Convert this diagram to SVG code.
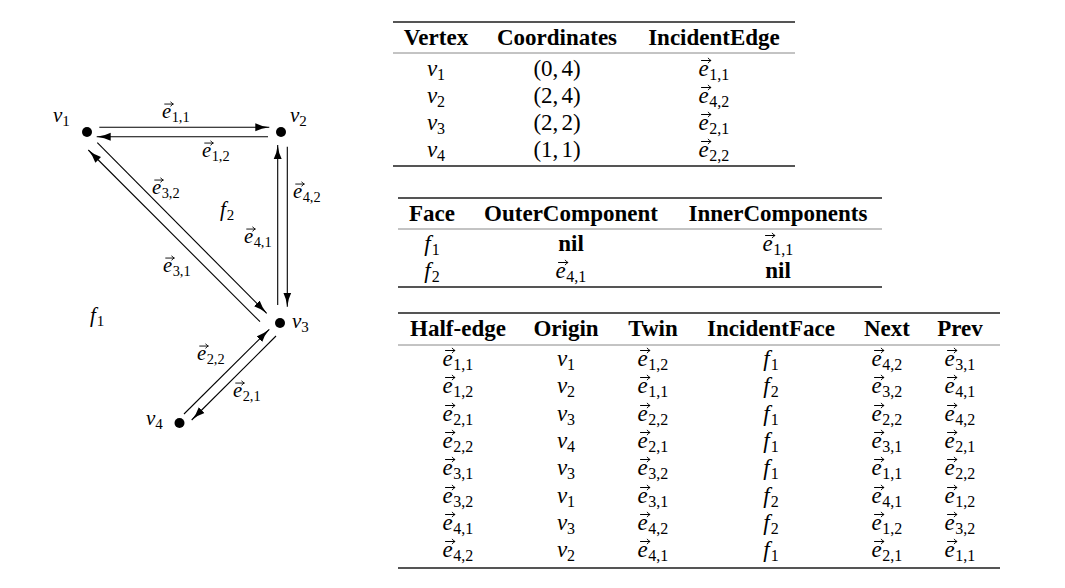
<svg xmlns="http://www.w3.org/2000/svg" width="1065" height="588" viewBox="0 0 1065 588">
<style>
text{font-family:"Liberation Serif","Times New Roman",serif;font-size:23px;fill:#000}
.b{font-weight:bold}
.it{font-style:italic}
.sb{font-size:16px;font-style:normal}
.m{text-anchor:middle}
.g text{font-size:21px}
.g .sb{font-size:15px}
.thick{stroke:#555;stroke-width:1.8}
.thin{stroke:#888;stroke-width:1}
.edge{stroke:#000;stroke-width:1.1;fill:none;marker-end:url(#ah)}
.dot{fill:#000}
.va{stroke:#000;stroke-width:1;fill:none;stroke-linecap:round;stroke-linejoin:round}
</style>
<defs>
<marker id="ah" markerWidth="15" markerHeight="9" refX="14" refY="4.5" orient="auto" markerUnits="userSpaceOnUse">
<path d="M0,0.5 Q6,3.6 14,4.5 Q6,5.4 0,8.5 Z" fill="#000"/>
</marker>
<path id="vec" class="va" d="M3,-15.5 H12.3 M9.8,-17.8 Q10.8,-16.1 12.5,-15.5 Q10.8,-14.9 9.8,-13.2"/>
</defs>
<rect width="1065" height="588" fill="#fff"/>

<!-- Graph vertices -->
<g id="v1" class="g"><circle class="dot" cx="87" cy="132" r="5"/><text x="53" y="122"><tspan class="it">v</tspan><tspan class="sb" dy="4">1</tspan></text></g>
<g id="v2" class="g"><circle class="dot" cx="281" cy="132" r="5"/><text x="290" y="122"><tspan class="it">v</tspan><tspan class="sb" dy="4">2</tspan></text></g>
<g id="v3" class="g"><circle class="dot" cx="280" cy="323" r="5"/><text x="292" y="328"><tspan class="it">v</tspan><tspan class="sb" dy="4">3</tspan></text></g>
<g id="v4" class="g"><circle class="dot" cx="179.5" cy="423" r="5"/><text x="146" y="425"><tspan class="it">v</tspan><tspan class="sb" dy="4">4</tspan></text></g>
<g id="face-f1" class="g"><text x="90" y="322"><tspan class="it">f</tspan><tspan class="sb" dx="1" dy="4">1</tspan></text></g>
<g id="face-f2" class="g"><text x="220" y="216"><tspan class="it">f</tspan><tspan class="sb" dx="1" dy="4">2</tspan></text></g>

<!-- Connectors -->
<g id="connectors">
<path class="edge" d="M99.3,127.3 L269.3,127.3"/>
<path class="edge" d="M268,136.7 L96.7,136.7"/>
<path class="edge" d="M277.7,305 L277.7,145"/>
<path class="edge" d="M287.3,146.7 L287.3,306.7"/>
<path class="edge" d="M97.3,142.7 L266.7,313.3"/>
<path class="edge" d="M260,321.7 L88.3,150"/>
<path class="edge" d="M184,414 L269.3,329.3"/>
<path class="edge" d="M276,336 L191.7,420"/>
<g transform="translate(162,118) scale(0.9)"><use href="#vec"/><text><tspan class="it">e</tspan><tspan class="sb" dx="0.5" dy="4">1,1</tspan></text></g>
<g transform="translate(202,157) scale(0.9)"><use href="#vec"/><text><tspan class="it">e</tspan><tspan class="sb" dx="0.5" dy="4">1,2</tspan></text></g>
<g transform="translate(152,194) scale(0.9)"><use href="#vec"/><text><tspan class="it">e</tspan><tspan class="sb" dx="0.5" dy="4">3,2</tspan></text></g>
<g transform="translate(293,198) scale(0.9)"><use href="#vec"/><text><tspan class="it">e</tspan><tspan class="sb" dx="0.5" dy="4">4,2</tspan></text></g>
<g transform="translate(244,243) scale(0.9)"><use href="#vec"/><text><tspan class="it">e</tspan><tspan class="sb" dx="0.5" dy="4">4,1</tspan></text></g>
<g transform="translate(163,272) scale(0.9)"><use href="#vec"/><text><tspan class="it">e</tspan><tspan class="sb" dx="0.5" dy="4">3,1</tspan></text></g>
<g transform="translate(197,360) scale(0.9)"><use href="#vec"/><text><tspan class="it">e</tspan><tspan class="sb" dx="0.5" dy="4">2,2</tspan></text></g>
<g transform="translate(233,397) scale(0.9)"><use href="#vec"/><text><tspan class="it">e</tspan><tspan class="sb" dx="0.5" dy="4">2,1</tspan></text></g>
</g>

<!-- Table 1: vertices -->
<g id="table-vertex">
<line class="thick" x1="393" y1="22" x2="795" y2="22"/>
<text class="b m" x="436" y="45">Vertex</text>
<text class="b m" x="557" y="45">Coordinates</text>
<text class="b m" x="714" y="45">IncidentEdge</text>
<line class="thin" x1="393" y1="53" x2="795" y2="53"/>
<text class="m" x="436" y="76"><tspan class="it">v</tspan><tspan class="sb" dy="4">1</tspan></text>
<text class="m" x="436" y="103"><tspan class="it">v</tspan><tspan class="sb" dy="4">2</tspan></text>
<text class="m" x="436" y="130"><tspan class="it">v</tspan><tspan class="sb" dy="4">3</tspan></text>
<text class="m" x="436" y="157"><tspan class="it">v</tspan><tspan class="sb" dy="4">4</tspan></text>
<text class="m" x="557" y="76">(0,<tspan dx="3">4)</tspan></text>
<text class="m" x="557" y="103">(2,<tspan dx="3">4)</tspan></text>
<text class="m" x="557" y="130">(2,<tspan dx="3">2)</tspan></text>
<text class="m" x="557" y="157">(1,<tspan dx="3">1)</tspan></text>
<g transform="translate(698.5,76)"><use href="#vec"/><text><tspan class="it">e</tspan><tspan class="sb" dx="0.5" dy="4">1,1</tspan></text></g>
<g transform="translate(698.5,103)"><use href="#vec"/><text><tspan class="it">e</tspan><tspan class="sb" dx="0.5" dy="4">4,2</tspan></text></g>
<g transform="translate(698.5,130)"><use href="#vec"/><text><tspan class="it">e</tspan><tspan class="sb" dx="0.5" dy="4">2,1</tspan></text></g>
<g transform="translate(698.5,157)"><use href="#vec"/><text><tspan class="it">e</tspan><tspan class="sb" dx="0.5" dy="4">2,2</tspan></text></g>
<line class="thick" x1="393" y1="166" x2="795" y2="166"/>
</g>

<!-- Table 2: faces -->
<g id="table-face">
<line class="thick" x1="398" y1="198" x2="882" y2="198"/>
<text class="b m" x="432" y="221">Face</text>
<text class="b m" x="571" y="221">OuterComponent</text>
<text class="b m" x="778" y="221">InnerComponents</text>
<line class="thin" x1="398" y1="229" x2="882" y2="229"/>
<text class="m" x="432" y="251"><tspan class="it">f</tspan><tspan class="sb" dx="1" dy="4">1</tspan></text>
<text class="m" x="432" y="278"><tspan class="it">f</tspan><tspan class="sb" dx="1" dy="4">2</tspan></text>
<text class="b m" x="571" y="251">nil</text>
<g transform="translate(555.5,278)"><use href="#vec"/><text><tspan class="it">e</tspan><tspan class="sb" dx="0.5" dy="4">4,1</tspan></text></g>
<g transform="translate(762.5,251)"><use href="#vec"/><text><tspan class="it">e</tspan><tspan class="sb" dx="0.5" dy="4">1,1</tspan></text></g>
<text class="b m" x="778" y="278">nil</text>
<line class="thick" x1="398" y1="287" x2="882" y2="287"/>
</g>

<!-- Table 3: half-edges -->
<g id="table-halfedge">
<line class="thick" x1="398" y1="313" x2="1000" y2="313"/>
<text class="b m" x="458" y="336">Half-edge</text>
<text class="b m" x="566" y="336">Origin</text>
<text class="b m" x="653" y="336">Twin</text>
<text class="b m" x="771" y="336">IncidentFace</text>
<text class="b m" x="887" y="336">Next</text>
<text class="b m" x="960" y="336">Prev</text>
<line class="thin" x1="398" y1="345" x2="1000" y2="345"/>

<g transform="translate(442.5,366)"><use href="#vec"/><text><tspan class="it">e</tspan><tspan class="sb" dx="0.5" dy="4">1,1</tspan></text></g>
<text class="m" x="566" y="366"><tspan class="it">v</tspan><tspan class="sb" dy="4">1</tspan></text>
<g transform="translate(637.5,366)"><use href="#vec"/><text><tspan class="it">e</tspan><tspan class="sb" dx="0.5" dy="4">1,2</tspan></text></g>
<text class="m" x="771" y="366"><tspan class="it">f</tspan><tspan class="sb" dx="1" dy="4">1</tspan></text>
<g transform="translate(871.5,366)"><use href="#vec"/><text><tspan class="it">e</tspan><tspan class="sb" dx="0.5" dy="4">4,2</tspan></text></g>
<g transform="translate(944.5,366)"><use href="#vec"/><text><tspan class="it">e</tspan><tspan class="sb" dx="0.5" dy="4">3,1</tspan></text></g>

<g transform="translate(442.5,393)"><use href="#vec"/><text><tspan class="it">e</tspan><tspan class="sb" dx="0.5" dy="4">1,2</tspan></text></g>
<text class="m" x="566" y="393"><tspan class="it">v</tspan><tspan class="sb" dy="4">2</tspan></text>
<g transform="translate(637.5,393)"><use href="#vec"/><text><tspan class="it">e</tspan><tspan class="sb" dx="0.5" dy="4">1,1</tspan></text></g>
<text class="m" x="771" y="393"><tspan class="it">f</tspan><tspan class="sb" dx="1" dy="4">2</tspan></text>
<g transform="translate(871.5,393)"><use href="#vec"/><text><tspan class="it">e</tspan><tspan class="sb" dx="0.5" dy="4">3,2</tspan></text></g>
<g transform="translate(944.5,393)"><use href="#vec"/><text><tspan class="it">e</tspan><tspan class="sb" dx="0.5" dy="4">4,1</tspan></text></g>

<g transform="translate(442.5,421)"><use href="#vec"/><text><tspan class="it">e</tspan><tspan class="sb" dx="0.5" dy="4">2,1</tspan></text></g>
<text class="m" x="566" y="421"><tspan class="it">v</tspan><tspan class="sb" dy="4">3</tspan></text>
<g transform="translate(637.5,421)"><use href="#vec"/><text><tspan class="it">e</tspan><tspan class="sb" dx="0.5" dy="4">2,2</tspan></text></g>
<text class="m" x="771" y="421"><tspan class="it">f</tspan><tspan class="sb" dx="1" dy="4">1</tspan></text>
<g transform="translate(871.5,421)"><use href="#vec"/><text><tspan class="it">e</tspan><tspan class="sb" dx="0.5" dy="4">2,2</tspan></text></g>
<g transform="translate(944.5,421)"><use href="#vec"/><text><tspan class="it">e</tspan><tspan class="sb" dx="0.5" dy="4">4,2</tspan></text></g>

<g transform="translate(442.5,448)"><use href="#vec"/><text><tspan class="it">e</tspan><tspan class="sb" dx="0.5" dy="4">2,2</tspan></text></g>
<text class="m" x="566" y="448"><tspan class="it">v</tspan><tspan class="sb" dy="4">4</tspan></text>
<g transform="translate(637.5,448)"><use href="#vec"/><text><tspan class="it">e</tspan><tspan class="sb" dx="0.5" dy="4">2,1</tspan></text></g>
<text class="m" x="771" y="448"><tspan class="it">f</tspan><tspan class="sb" dx="1" dy="4">1</tspan></text>
<g transform="translate(871.5,448)"><use href="#vec"/><text><tspan class="it">e</tspan><tspan class="sb" dx="0.5" dy="4">3,1</tspan></text></g>
<g transform="translate(944.5,448)"><use href="#vec"/><text><tspan class="it">e</tspan><tspan class="sb" dx="0.5" dy="4">2,1</tspan></text></g>

<g transform="translate(442.5,475)"><use href="#vec"/><text><tspan class="it">e</tspan><tspan class="sb" dx="0.5" dy="4">3,1</tspan></text></g>
<text class="m" x="566" y="475"><tspan class="it">v</tspan><tspan class="sb" dy="4">3</tspan></text>
<g transform="translate(637.5,475)"><use href="#vec"/><text><tspan class="it">e</tspan><tspan class="sb" dx="0.5" dy="4">3,2</tspan></text></g>
<text class="m" x="771" y="475"><tspan class="it">f</tspan><tspan class="sb" dx="1" dy="4">1</tspan></text>
<g transform="translate(871.5,475)"><use href="#vec"/><text><tspan class="it">e</tspan><tspan class="sb" dx="0.5" dy="4">1,1</tspan></text></g>
<g transform="translate(944.5,475)"><use href="#vec"/><text><tspan class="it">e</tspan><tspan class="sb" dx="0.5" dy="4">2,2</tspan></text></g>

<g transform="translate(442.5,503)"><use href="#vec"/><text><tspan class="it">e</tspan><tspan class="sb" dx="0.5" dy="4">3,2</tspan></text></g>
<text class="m" x="566" y="503"><tspan class="it">v</tspan><tspan class="sb" dy="4">1</tspan></text>
<g transform="translate(637.5,503)"><use href="#vec"/><text><tspan class="it">e</tspan><tspan class="sb" dx="0.5" dy="4">3,1</tspan></text></g>
<text class="m" x="771" y="503"><tspan class="it">f</tspan><tspan class="sb" dx="1" dy="4">2</tspan></text>
<g transform="translate(871.5,503)"><use href="#vec"/><text><tspan class="it">e</tspan><tspan class="sb" dx="0.5" dy="4">4,1</tspan></text></g>
<g transform="translate(944.5,503)"><use href="#vec"/><text><tspan class="it">e</tspan><tspan class="sb" dx="0.5" dy="4">1,2</tspan></text></g>

<g transform="translate(442.5,530)"><use href="#vec"/><text><tspan class="it">e</tspan><tspan class="sb" dx="0.5" dy="4">4,1</tspan></text></g>
<text class="m" x="566" y="530"><tspan class="it">v</tspan><tspan class="sb" dy="4">3</tspan></text>
<g transform="translate(637.5,530)"><use href="#vec"/><text><tspan class="it">e</tspan><tspan class="sb" dx="0.5" dy="4">4,2</tspan></text></g>
<text class="m" x="771" y="530"><tspan class="it">f</tspan><tspan class="sb" dx="1" dy="4">2</tspan></text>
<g transform="translate(871.5,530)"><use href="#vec"/><text><tspan class="it">e</tspan><tspan class="sb" dx="0.5" dy="4">1,2</tspan></text></g>
<g transform="translate(944.5,530)"><use href="#vec"/><text><tspan class="it">e</tspan><tspan class="sb" dx="0.5" dy="4">3,2</tspan></text></g>

<g transform="translate(442.5,557)"><use href="#vec"/><text><tspan class="it">e</tspan><tspan class="sb" dx="0.5" dy="4">4,2</tspan></text></g>
<text class="m" x="566" y="557"><tspan class="it">v</tspan><tspan class="sb" dy="4">2</tspan></text>
<g transform="translate(637.5,557)"><use href="#vec"/><text><tspan class="it">e</tspan><tspan class="sb" dx="0.5" dy="4">4,1</tspan></text></g>
<text class="m" x="771" y="557"><tspan class="it">f</tspan><tspan class="sb" dx="1" dy="4">1</tspan></text>
<g transform="translate(871.5,557)"><use href="#vec"/><text><tspan class="it">e</tspan><tspan class="sb" dx="0.5" dy="4">2,1</tspan></text></g>
<g transform="translate(944.5,557)"><use href="#vec"/><text><tspan class="it">e</tspan><tspan class="sb" dx="0.5" dy="4">1,1</tspan></text></g>
<line class="thick" x1="398" y1="568" x2="1000" y2="568"/>
</g>
</svg>
